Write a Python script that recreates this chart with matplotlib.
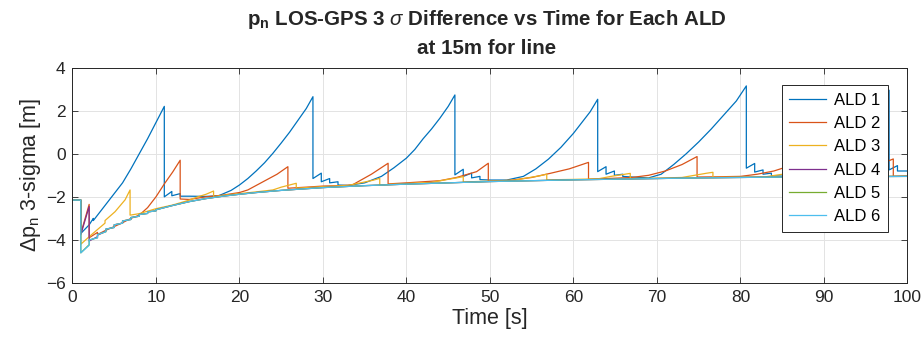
import matplotlib
matplotlib.use("Agg")
import matplotlib.pyplot as plt

plt.rcParams['font.family'] = ['Liberation Sans', 'DejaVu Sans']
plt.rcParams['mathtext.fontset'] = 'custom'
plt.rcParams['mathtext.rm'] = 'Liberation Sans'
plt.rcParams['mathtext.it'] = 'Liberation Sans:italic'
plt.rcParams['mathtext.bf'] = 'Liberation Sans:bold'

# данные: время [s] и разница 3-sigma [m]
ald1_t = [0, 1, 1, 2, 2.5, 2.5, 3, 4, 5, 6, 7, 8, 9, 10, 11, 11, 11.9, 11.9, 12.9, 12.9, 14, 16, 17.5,
          19, 20, 21, 22, 23, 24, 25, 26, 27, 28, 28.8, 28.8, 29.8, 29.8, 30.8, 30.8, 31.8, 31.8, 33, 35,
          37, 38.5, 40, 41, 42, 43, 44, 45, 45.8, 45.8, 46.8, 46.8, 47.8, 47.8, 48.8, 48.8, 50, 52, 54,
          55.5, 57, 58.5, 60, 61, 62, 62.9, 62.9, 63.9, 63.9, 64.9, 64.9, 65.9, 65.9, 67, 69, 70.5, 72,
          73.5, 75, 76.5, 78, 79.5, 80.7, 80.7, 81.7, 81.7, 82.7, 82.7, 83.7, 83.7, 86, 88, 90, 92, 94,
          95.5, 97, 97.8, 97.8, 98.8, 98.8, 100]
ald1_y = [-2.15, -2.15, -3.7, -3.3, -3.0, -3.1, -2.85, -2.35, -1.85, -1.35, -0.7, 0.0, 0.7, 1.45, 2.2, -2.0,
          -1.75, -1.95, -1.85, -1.97, -1.97, -1.98, -1.95, -1.7, -1.45, -1.15, -0.8, -0.42, 0.02, 0.5, 1.0,
          1.55, 2.1, 2.65, -1.15, -0.9, -1.3, -1.15, -1.35, -1.3, -1.45, -1.47, -1.35, -1.05, -0.65, -0.2,
          0.2, 0.7, 1.15, 1.65, 2.2, 2.73, -0.98, -0.72, -1.05, -0.9, -1.12, -1.05, -1.2, -1.22, -1.22,
          -1.05, -0.7, -0.25, 0.3, 0.95, 1.45, 1.95, 2.53, -0.83, -0.6, -0.95, -0.8, -1.0, -0.95, -1.05,
          -1.08, -1.12, -0.95, -0.5, 0.0, 0.55, 1.15, 1.8, 2.45, 3.15, -0.67, -0.45, -0.85, -0.75, -0.95,
          -0.9, -1.02, -1.05, -1.0, -0.7, -0.2, 0.5, 1.15, 2.1, 2.95, -0.75, -0.55, -0.8, -0.8]

ald2_t = [0, 1, 1, 2, 2, 3, 3, 4, 5, 6, 7, 8, 9, 10, 11, 12, 12.9, 12.9, 14, 16, 18, 20, 21, 23.3, 24.5,
          25.8, 25.8, 28, 30, 32, 33.5, 35.8, 37.8, 37.8, 40, 42, 44, 46, 48.4, 49.8, 49.8, 52.5, 55, 57.2,
          59.5, 61.8, 61.8, 64, 67, 69, 71, 73, 74.8, 74.8, 77, 80, 82, 84, 86, 87, 87, 90, 92, 94, 96,
          98.3, 98.3, 100]
ald2_y = [-2.15, -2.15, -3.7, -2.35, -3.9, -3.65, -3.75, -3.55, -3.38, -3.2, -3.0, -2.85, -2.5, -2.0, -1.4,
          -0.85, -0.3, -2.1, -2.12, -2.0, -1.92, -1.8, -1.68, -1.2, -0.95, -0.6, -1.6, -1.55, -1.5, -1.48,
          -1.45, -0.95, -0.44, -1.4, -1.35, -1.3, -1.25, -1.1, -0.83, -0.44, -1.28, -1.23, -1.1, -0.91, -0.7,
          -0.4, -1.18, -1.15, -1.1, -1.0, -0.8, -0.5, -0.13, -1.08, -1.07, -1.05, -0.95, -0.8, -0.55, -0.35,
          -1.05, -1.02, -0.95, -0.8, -0.6, -0.24, -1.05, -1.03]

ald3_t = [0, 1, 1, 2, 2.9, 3.9, 3.9, 5.1, 6.3, 6.9, 6.9, 8, 10, 12, 14, 15, 16, 16.9, 16.9, 18, 20, 22, 24,
          25, 26, 26.8, 26.8, 30, 33, 34.5, 36, 36.8, 36.8, 40, 43, 44.5, 46, 46.8, 46.8, 50, 53, 54.5, 56,
          56.8, 56.8, 60, 63, 64.5, 66, 66.8, 66.8, 70, 73, 74.5, 76, 76.7, 76.7, 80, 83, 84.5, 86, 86.8,
          86.8, 90, 93, 94.5, 96, 96.8, 96.8, 100]
ald3_y = [-2.15, -2.15, -4.2, -3.85, -3.55, -3.22, -3.1, -2.69, -2.14, -1.68, -2.85, -2.78, -2.55, -2.38,
          -2.15, -2.0, -1.88, -1.73, -2.0, -1.93, -1.85, -1.77, -1.68, -1.55, -1.45, -1.37, -1.6, -1.53, -1.47,
          -1.35, -1.23, -1.14, -1.45, -1.38, -1.33, -1.22, -1.12, -1.06, -1.31, -1.27, -1.22, -1.12, -1.02,
          -0.95, -1.21, -1.19, -1.16, -1.05, -0.96, -0.91, -1.15, -1.13, -1.1, -1.0, -0.9, -0.86, -1.1, -1.08,
          -1.07, -0.98, -0.9, -0.85, -1.07, -1.06, -1.05, -0.97, -0.9, -0.85, -1.05, -1.04]

ald4_t = [0, 1, 1, 2, 2, 3, 3, 4, 4, 5, 5, 6, 6, 7, 7, 8, 8, 9, 9, 10, 10, 12, 14, 16, 18, 20, 22, 25, 30,
          35, 40, 45, 50, 55, 60, 65, 70, 75, 80, 85, 90, 95, 100]
ald4_y = [-2.15, -2.15, -3.75, -2.45, -4.05, -3.85, -3.78, -3.6, -3.5, -3.42, -3.3, -3.22, -3.12, -3.05,
          -2.96, -2.9, -2.82, -2.77, -2.7, -2.65, -2.6, -2.4, -2.22, -2.08, -1.97, -1.88, -1.8, -1.7, -1.57,
          -1.48, -1.41, -1.35, -1.29, -1.25, -1.21, -1.18, -1.15, -1.12, -1.1, -1.08, -1.07, -1.06, -1.05]

# ALD 5 и ALD 6 почти совпадают (нижняя огибающая)
ald5_t = [0, 1, 1, 2, 2, 3, 3, 4, 4, 5, 5, 6, 6, 7, 7, 8, 8, 9, 9, 10, 10, 12, 14, 16, 18, 20, 22, 25, 30,
          35, 40, 45, 50, 55, 60, 65, 70, 75, 80, 85, 90, 95, 100]
ald5_y = [-2.15, -2.15, -4.6, -4.22, -4.0, -3.9, -3.75, -3.62, -3.5, -3.42, -3.3, -3.22, -3.12, -3.05,
          -2.96, -2.9, -2.82, -2.77, -2.7, -2.65, -2.6, -2.4, -2.22, -2.08, -1.97, -1.88, -1.8, -1.7, -1.57,
          -1.48, -1.41, -1.35, -1.29, -1.25, -1.21, -1.18, -1.15, -1.12, -1.1, -1.08, -1.07, -1.06, -1.05]
ald6_t = ald5_t
ald6_y = [-2.15, -2.15, -4.6, -4.25, -4.0, -3.9, -3.75, -3.62, -3.5, -3.42, -3.3, -3.22, -3.12, -3.05,
          -2.96, -2.9, -2.82, -2.77, -2.7, -2.65, -2.6, -2.4, -2.22, -2.08, -1.97, -1.88, -1.8, -1.7, -1.57,
          -1.48, -1.41, -1.35, -1.29, -1.25, -1.21, -1.18, -1.15, -1.12, -1.1, -1.08, -1.07, -1.06, -1.05]

labels = ['ALD 1', 'ALD 2', 'ALD 3', 'ALD 4', 'ALD 5', 'ALD 6']
colors = ['#0072BD', '#D95319', '#EDB120', '#7E2F8E', '#77AC30', '#4DBEEE']
series = [(ald1_t, ald1_y), (ald2_t, ald2_y), (ald3_t, ald3_y),
          (ald4_t, ald4_y), (ald5_t, ald5_y), (ald6_t, ald6_y)]

fig = plt.figure(figsize=(9.23, 3.47), dpi=100)
ax = fig.add_axes([0.0785, 0.1844, 0.9047, 0.6208])

for (t, y), lab, c in zip(series, labels, colors):
    ax.plot(t, y, color=c, lw=0.9, label=lab)

ax.set_xlim(0, 100)
ax.set_ylim(-6, 4)
ax.set_xticks(range(0, 101, 10))
ax.set_yticks(range(-6, 5, 2))
ax.grid(True, color='#e3e3e3', lw=0.7)
ax.set_axisbelow(True)
ax.tick_params(direction='in', top=True, right=True, length=4, width=0.6,
               color='#262626', labelsize=12.5, labelcolor='#262626', pad=5)
for s in ax.spines.values():
    s.set_color('#262626')
    s.set_linewidth(0.7)

ax.set_xlabel('Time [s]', fontsize=15.5, color='#262626', labelpad=2)
ax.set_ylabel(r'$\Delta\mathrm{p_n}$ 3-sigma [m]', fontsize=15.5, color='#262626', labelpad=2)

# заголовок центрирован над осями, как в MATLAB
fig.text(0.527, 1 - 25 / 347, r'$\mathbf{p_n}$ LOS-GPS 3 $\sigma$ Difference vs Time for Each ALD',
         ha='center', va='baseline', fontsize=14.8, fontweight='bold', color='#262626')
fig.text(0.527, 1 - 54 / 347, 'at 15m for line', ha='center', va='baseline',
         fontsize=14.8, fontweight='bold', color='#262626')

leg = ax.legend(loc='upper right', bbox_to_anchor=(0.977, 0.919), fontsize=12,
                fancybox=False, framealpha=1, edgecolor='#262626', handlelength=2.2,
                labelspacing=0.5, borderpad=0.45, handletextpad=0.5, borderaxespad=0)
leg.get_frame().set_linewidth(0.7)

fig.savefig('out.png', dpi=100)
